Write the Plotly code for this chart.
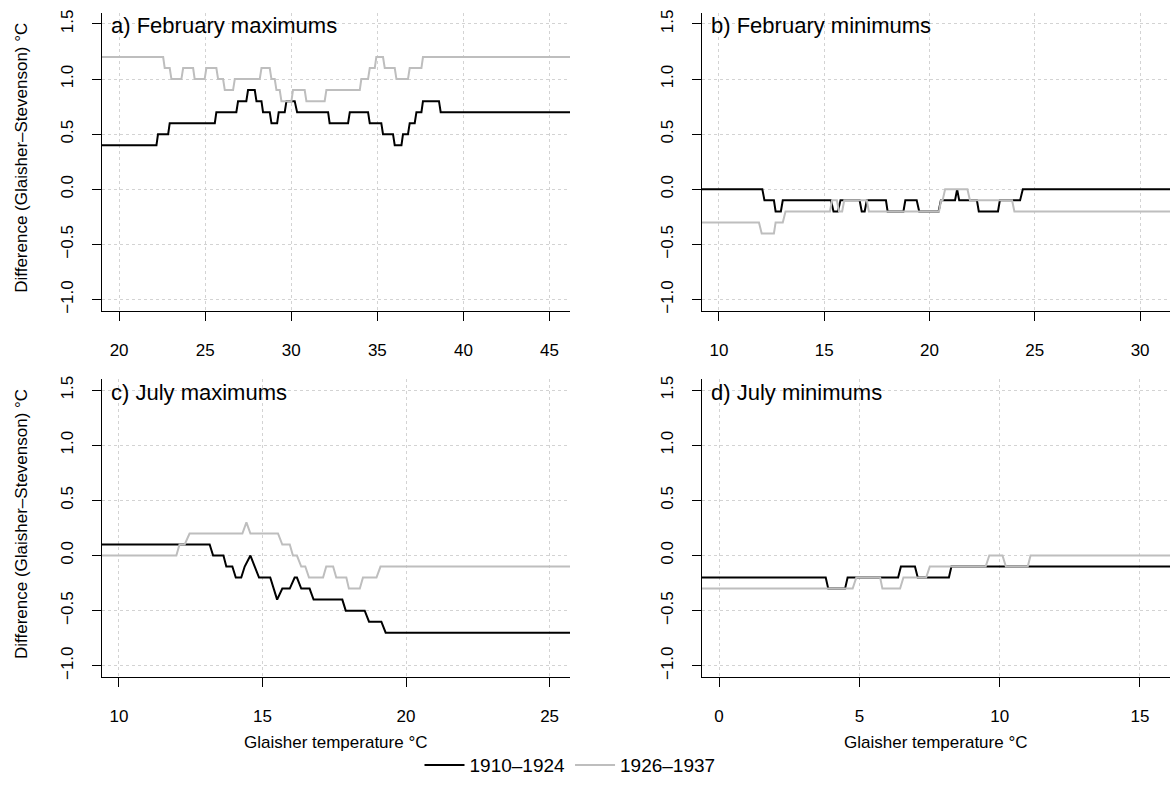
import plotly.graph_objects as go

W, H = 1173, 785

# ---------------- data ----------------
series_names = ["1910–1924", "1926–1937"]

# a) February maximums
a_black_x = [18.99, 22.17, 22.26, 22.85, 22.94, 25.56, 25.65, 26.81, 26.91, 27.39, 27.49, 27.88, 27.98, 28.27, 28.36,
             28.75, 28.85, 29.18, 29.27, 29.62, 29.72, 30.20, 30.34, 32.14, 32.23, 33.30, 33.40, 34.46, 34.56, 35.23,
             35.33, 35.91, 36.01, 36.40, 36.49, 36.78, 36.88, 37.17, 37.27, 37.56, 37.65, 38.58, 38.68, 46.19]
a_black_y = [0.4, 0.4, 0.5, 0.5, 0.6, 0.6, 0.7, 0.7, 0.8, 0.8, 0.9, 0.9, 0.8, 0.8, 0.7, 0.7, 0.6, 0.6, 0.7, 0.7,
             0.8, 0.8, 0.7, 0.7, 0.6, 0.6, 0.7, 0.7, 0.6, 0.6, 0.5, 0.5, 0.4, 0.4, 0.5, 0.5, 0.6, 0.6, 0.7, 0.7,
             0.8, 0.8, 0.7, 0.7]
a_grey_x = [18.99, 22.56, 22.65, 22.94, 23.04, 23.62, 23.72, 24.30, 24.39, 24.97, 25.07, 25.65, 25.75, 26.04, 26.14,
            26.62, 26.72, 28.17, 28.27, 28.75, 28.85, 29.04, 29.14, 29.33, 29.43, 30.01, 30.10, 30.78, 30.88, 31.94,
            32.04, 33.98, 34.07, 34.46, 34.56, 34.85, 34.94, 35.33, 35.43, 36.01, 36.11, 36.78, 36.88, 37.56, 37.65,
            46.19]
a_grey_y = [1.2, 1.2, 1.1, 1.1, 1.0, 1.0, 1.1, 1.1, 1.0, 1.0, 1.1, 1.1, 1.0, 1.0, 0.9, 0.9, 1.0, 1.0, 1.1, 1.1,
            1.0, 1.0, 0.9, 0.9, 0.8, 0.8, 0.9, 0.9, 0.8, 0.8, 0.9, 0.9, 1.0, 1.0, 1.1, 1.1, 1.2, 1.2, 1.1, 1.1,
            1.0, 1.0, 1.1, 1.1, 1.2, 1.2]

# b) February minimums
b_black_x = [9.18, 12.06, 12.16, 12.61, 12.69, 12.94, 13.03, 15.32, 15.44, 15.65, 15.77, 16.68, 16.78, 16.92, 17.02,
             17.93, 18.01, 18.76, 18.85, 19.39, 19.51, 20.43, 20.54, 21.21, 21.31, 21.41, 22.25, 22.34, 23.25, 23.34,
             24.30, 24.43, 31.42]
b_black_y = [0.0, 0.0, -0.1, -0.1, -0.2, -0.2, -0.1, -0.1, -0.2, -0.2, -0.1, -0.1, -0.2, -0.2, -0.1, -0.1, -0.2,
             -0.2, -0.1, -0.1, -0.2, -0.2, -0.1, -0.1, 0.0, -0.1, -0.1, -0.2, -0.2, -0.1, -0.1, 0.0, 0.0]
b_grey_x = [9.18, 11.90, 12.03, 12.61, 12.69, 13.03, 13.16, 15.27, 15.37, 15.60, 15.70, 15.85, 15.95, 17.02, 17.12,
            20.45, 20.55, 20.62, 20.74, 21.80, 21.92, 23.92, 24.03, 31.42]
b_grey_y = [-0.3, -0.3, -0.4, -0.4, -0.3, -0.3, -0.2, -0.2, -0.1, -0.1, -0.2, -0.2, -0.1, -0.1, -0.2, -0.2, -0.1,
            -0.1, 0.0, 0.0, -0.1, -0.1, -0.2, -0.2]

# c) July maximums
c_black_x = [9.40, 13.16, 13.28, 13.64, 13.74, 13.95, 14.07, 14.26, 14.38, 14.58, 14.73, 14.88, 15.27, 15.51, 15.69,
             15.95, 16.12, 16.20, 16.35, 16.64, 16.78, 17.78, 17.90, 18.56, 18.71, 19.14, 19.29, 25.71]
c_black_y = [0.1, 0.1, 0.0, 0.0, -0.1, -0.1, -0.2, -0.2, -0.1, 0.0, -0.1, -0.2, -0.2, -0.4, -0.3, -0.3, -0.2, -0.2,
             -0.3, -0.3, -0.4, -0.4, -0.5, -0.5, -0.6, -0.6, -0.7, -0.7]
c_grey_x = [9.40, 12.00, 12.11, 12.29, 12.46, 14.30, 14.44, 14.58, 15.54, 15.69, 15.95, 16.06, 16.20, 16.35, 16.49,
            16.62, 17.11, 17.22, 17.46, 17.57, 17.92, 18.01, 18.39, 18.50, 18.97, 19.11, 25.71]
c_grey_y = [0.0, 0.0, 0.1, 0.1, 0.2, 0.2, 0.3, 0.2, 0.2, 0.1, 0.1, 0.0, 0.0, -0.1, -0.1, -0.2, -0.2, -0.1, -0.1,
            -0.2, -0.2, -0.3, -0.3, -0.2, -0.2, -0.1, -0.1]

# d) July minimums
d_black_x = [-0.62, 3.80, 3.89, 4.49, 4.58, 6.38, 6.48, 6.98, 7.08, 8.19, 8.28, 16.07]
d_black_y = [-0.2, -0.2, -0.3, -0.3, -0.2, -0.2, -0.1, -0.1, -0.2, -0.2, -0.1, -0.1]
d_grey_x = [-0.62, 4.76, 4.89, 5.74, 5.82, 6.45, 6.57, 7.38, 7.51, 9.50, 9.63, 10.10, 10.22, 11.00, 11.10, 16.07]
d_grey_y = [-0.3, -0.3, -0.2, -0.2, -0.3, -0.3, -0.2, -0.2, -0.1, -0.1, 0.0, 0.0, -0.1, -0.1, 0.0, 0.0]

panel_titles = ["a) February maximums", "b) February minimums", "c) July maximums", "d) July minimums"]
x_ticks = [[20, 25, 30, 35, 40, 45], [10, 15, 20, 25, 30], [10, 15, 20, 25], [0, 5, 10, 15]]
x_ranges = [[18.99, 46.19], [9.18, 31.42], [9.40, 25.71], [-0.62, 16.07]]
y_ticks = [-1.0, -0.5, 0.0, 0.5, 1.0, 1.5]
y_range = [-1.1, 1.6]
y_title = "Difference (Glaisher–Stevenson) °C"
x_title = "Glaisher temperature °C"

# ---------------- layout geometry (pixels) ----------------
FONT = "Liberation Sans, Arial, Helvetica, sans-serif"
col_px = [(101.7, 570.0), (701.7, 1170.0)]
row_px = [(10.0, 310.0), (379.0, 679.0)]

def fx(p):
    return p / W

def fy(p):
    return 1 - p / H

data = [
    (a_black_x, a_black_y, a_grey_x, a_grey_y),
    (b_black_x, b_black_y, b_grey_x, b_grey_y),
    (c_black_x, c_black_y, c_grey_x, c_grey_y),
    (d_black_x, d_black_y, d_grey_x, d_grey_y),
]
colors = ["#000000", "#BEBEBE"]

fig = go.Figure()
annotations = []
layout = {}
for i in range(4):
    r, c = divmod(i, 2)
    sfx = "" if i == 0 else str(i + 1)
    bx, by, gx, gy = data[i]
    for k, (xx, yy) in enumerate([(bx, by), (gx, gy)]):
        fig.add_trace(go.Scatter(
            x=xx, y=yy, mode="lines", name=series_names[k],
            line=dict(color=colors[k], width=2),
            xaxis="x" + sfx, yaxis="y" + sfx,
            showlegend=(i == 0), legendgroup=series_names[k],
            hoverinfo="skip"))
    x0, x1 = col_px[c]
    y0, y1 = row_px[r]
    layout["xaxis" + sfx] = dict(
        domain=[fx(x0), fx(x1)], range=x_ranges[i], anchor="y" + sfx,
        tickvals=x_ticks[i], ticks="outside", ticklen=9, tickwidth=1, tickcolor="black",
        showline=True, linecolor="black", linewidth=1, mirror=False,
        showgrid=True, gridcolor="#D3D3D3", griddash="dot", gridwidth=1, zeroline=False,
        tickfont=dict(family=FONT, size=17, color="black"), ticklabelstandoff=15)
    layout["yaxis" + sfx] = dict(
        domain=[fy(y1), fy(y0)], range=y_range, anchor="x" + sfx,
        tickvals=y_ticks, tickformat=".1f", tickangle=-90,
        ticks="outside", ticklen=9, tickwidth=1, tickcolor="black",
        showline=True, linecolor="black", linewidth=1, mirror=False,
        showgrid=True, gridcolor="#D3D3D3", griddash="dot", gridwidth=1, zeroline=False,
        tickfont=dict(family=FONT, size=17, color="black"), ticklabelstandoff=12)
    annotations.append(dict(
        text=panel_titles[i], xref="paper", yref="paper", x=fx(x0 + 7), y=fy(y0 + 13),
        xanchor="left", yanchor="middle", showarrow=False,
        font=dict(family=FONT, size=22, color="black")))
    if c == 0:
        annotations.append(dict(
            text=y_title, xref="paper", yref="paper", x=fx(22), y=fy((y0 + y1) / 2 - 4),
            xanchor="center", yanchor="middle", textangle=-90, showarrow=False,
            font=dict(family=FONT, size=17, color="black")))
    if r == 1:
        annotations.append(dict(
            text=x_title, xref="paper", yref="paper", x=fx((x0 + x1) / 2), y=fy(745),
            xanchor="center", yanchor="middle", showarrow=False,
            font=dict(family=FONT, size=17, color="black")))

fig.update_layout(
    width=W, height=H, margin=dict(l=0, r=0, t=0, b=0),
    paper_bgcolor="white", plot_bgcolor="white",
    annotations=annotations,
    legend=dict(orientation="h", x=fx(570), xanchor="center", y=fy(768), yanchor="middle",
                font=dict(family=FONT, size=19, color="black"), bgcolor="rgba(0,0,0,0)",
                itemwidth=40),
    **layout)

fig.write_html("out.html")
